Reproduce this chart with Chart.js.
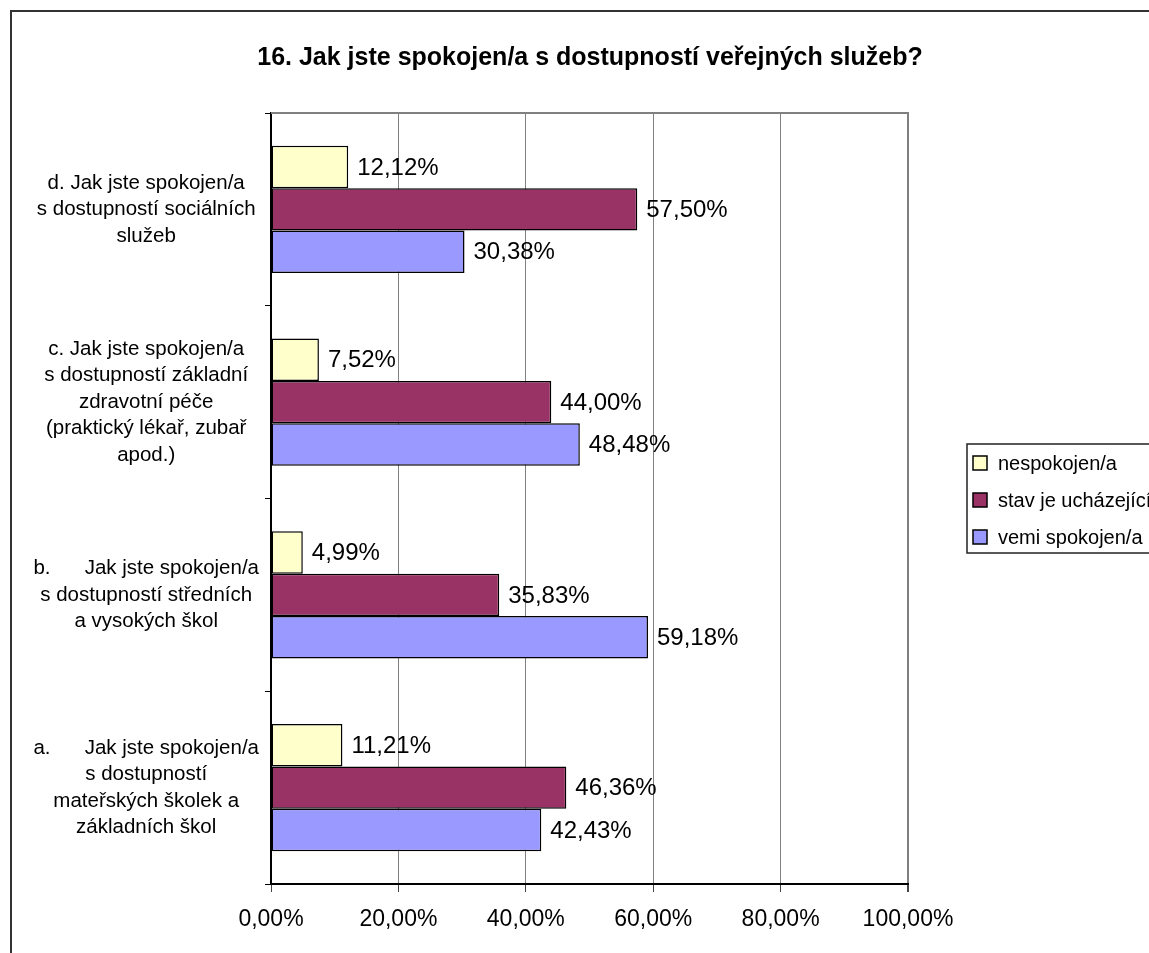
<!DOCTYPE html>
<html>
<head>
<meta charset="utf-8">
<script src="https://cdn.jsdelivr.net/npm/chart.js@4/dist/chart.umd.min.js"></script>
<style>
  html, body { margin: 0; padding: 0; background: #fff; overflow: hidden; }
  #wrap { width: 1149px; height: 953px; }
</style>
</head>
<body>
<div id="wrap"><canvas id="c" width="1149" height="953"></canvas></div>
<script>
// ---------- data ----------
const titleText = '16. Jak jste spokojen/a s dostupností veřejných služeb?';
const categories = [
  ['d. Jak jste spokojen/a', 's dostupností sociálních', 'služeb'],
  ['c. Jak jste spokojen/a', 's dostupností základní', 'zdravotní péče', '(praktický lékař, zubař', 'apod.)'],
  ['b.      Jak jste spokojen/a', 's dostupností středních', 'a vysokých škol'],
  ['a.      Jak jste spokojen/a', 's dostupností', 'mateřských školek a', 'základních škol']
];
const seriesNames = ['nespokojen/a', 'stav je ucházející', 'velmi spokojen/a'];
const nespokojen = [12.12, 7.52, 4.99, 11.21];
const uchazejici = [57.50, 44.00, 35.83, 46.36];
const spokojen   = [30.38, 48.48, 59.18, 42.43];
const xTickLabels = ['0,00%', '20,00%', '40,00%', '60,00%', '80,00%', '100,00%'];
const legendNames = ['nespokojen/a', 'stav je ucházející', 'vemi spokojen/a'];

// ---------- styles ----------
const FONT = '"Liberation Sans", Arial, sans-serif';
const colors = ['#FFFFCC', '#993366', '#9999FF'];

const fmt = v => v.toFixed(2).replace('.', ',') + '%';

const decorPlugin = {
  id: 'decor',
  beforeDraw(chart) {
    const ctx = chart.ctx;
    ctx.save();
    ctx.fillStyle = '#fff';
    ctx.fillRect(0, 0, chart.width, chart.height);
    // outer frame
    ctx.strokeStyle = '#333';
    ctx.lineWidth = 2;
    ctx.strokeRect(11, 11, chart.width + 20, chart.height + 20);
    ctx.restore();
  },
  afterDraw(chart) {
    const ctx = chart.ctx;
    const a = chart.chartArea;
    ctx.save();
    // top border of plot area
    ctx.strokeStyle = '#808080';
    ctx.lineWidth = 2;
    ctx.beginPath();
    ctx.moveTo(a.left, a.top);
    ctx.lineTo(a.right + 1, a.top);
    ctx.stroke();
    // title
    ctx.fillStyle = '#000';
    ctx.font = 'bold 25px ' + FONT;
    ctx.textAlign = 'center';
    ctx.textBaseline = 'middle';
    ctx.fillText(titleText, 590, 58);
    // legend
    const lx = a.right + 59, ly = 444, lh = 109;
    ctx.strokeStyle = '#222';
    ctx.lineWidth = 1.5;
    ctx.strokeRect(lx, ly, chart.width + 40 - lx, lh);
    ctx.font = '20px ' + FONT;
    ctx.textAlign = 'left';
    chart.data.datasets.forEach((ds, i) => {
      const cy = ly + 19 + i * 37;
      ctx.fillStyle = ds.backgroundColor;
      ctx.fillRect(lx + 6, cy - 7, 14, 14);
      ctx.strokeStyle = '#000';
      ctx.lineWidth = 1.5;
      ctx.strokeRect(lx + 6, cy - 7, 14, 14);
      ctx.fillStyle = '#000';
      ctx.fillText(legendNames[i], lx + 31, cy + 1);
    });
    ctx.restore();
  },
  afterDatasetsDraw(chart) {
    const ctx = chart.ctx;
    ctx.save();
    ctx.fillStyle = '#000';
    ctx.font = '24px ' + FONT;
    ctx.textAlign = 'left';
    ctx.textBaseline = 'middle';
    chart.data.datasets.forEach((ds, i) => {
      const meta = chart.getDatasetMeta(i);
      meta.data.forEach((bar, j) => {
        ctx.fillText(fmt(ds.data[j]), bar.x + 9, bar.y + 1);
      });
    });
    ctx.restore();
  }
};

new Chart(document.getElementById('c'), {
  type: 'bar',
  data: {
    labels: categories,
    datasets: [
      { label: seriesNames[0], data: nespokojen, backgroundColor: colors[0] },
      { label: seriesNames[1], data: uchazejici, backgroundColor: colors[1] },
      { label: seriesNames[2], data: spokojen, backgroundColor: colors[2] }
    ]
  },
  options: {
    indexAxis: 'y',
    responsive: false,
    animation: false,
    devicePixelRatio: 1,
    layout: { padding: { left: 0, right: 241, top: 113, bottom: 0 } },
    datasets: {
      bar: {
        categoryPercentage: 0.66,
        barPercentage: 1.0,
        borderColor: '#000',
        borderWidth: 1.5,
        borderSkipped: false
      }
    },
    plugins: {
      legend: { display: false },
      title: { display: false },
      tooltip: { enabled: false }
    },
    scales: {
      x: {
        min: 0, max: 100,
        ticks: {
          stepSize: 20,
          color: '#000',
          font: { family: FONT, size: 23 },
          padding: 14,
          callback: (v, i) => xTickLabels[i]
        },
        grid: {
          color: '#808080',
          lineWidth: c => (c.tick && c.tick.value === 100 ? 2 : 1),
          tickLength: 8,
          tickColor: '#444'
        },
        border: { color: '#000', width: 2 },
        afterFit: s => { s.height = 69; }
      },
      y: {
        ticks: {
          color: '#000',
          font: { family: FONT, size: 20.5, lineHeight: '26.5px' },
          crossAlign: 'center',
          padding: 6,
          autoSkip: false
        },
        grid: {
          drawOnChartArea: false,
          tickLength: 6,
          color: '#000'
        },
        border: { color: '#000', width: 2 },
        afterFit: s => { s.width = 271; }
      }
    }
  },
  plugins: [decorPlugin]
});
</script>
</body>
</html>
